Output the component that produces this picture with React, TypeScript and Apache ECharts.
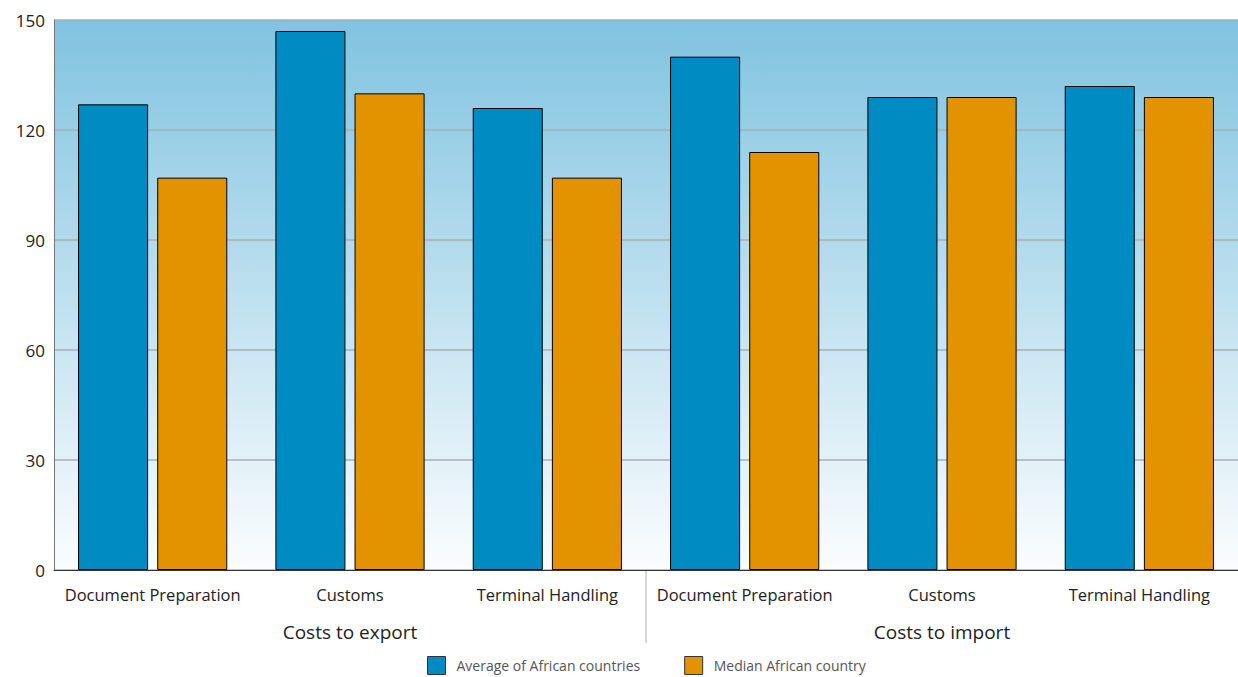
import React, { useEffect, useRef } from "react";
import * as echarts from "echarts";

const categories = [
  "Document Preparation",
  "Customs",
  "Terminal Handling",
  "Document Preparation",
  "Customs",
  "Terminal Handling",
];
const groups = ["Costs to export", "Costs to import"];
const averageValues = [127, 147, 126, 140, 129, 132];
const medianValues = [107, 130, 107, 114, 129, 129];
const seriesNames = ["Average of African countries", "Median African country"];
const yTicks = { min: 0, max: 150, interval: 30 };

const FONT = "'Open Sans', 'Noto Sans', sans-serif";

export default function App() {
  const ref = useRef<HTMLDivElement>(null);
  useEffect(() => {
    if (!ref.current) return;
    const chart = echarts.init(ref.current, null, { renderer: "svg" });
    const option: any = {
      animation: false,
      textStyle: { fontFamily: FONT },
      grid: {
        left: 54,
        right: 0,
        top: 20,
        bottom: 107,
        show: true,
        borderWidth: 0,
        backgroundColor: new echarts.graphic.LinearGradient(0, 0, 0, 1, [
          { offset: 0, color: "#80C3E0" },
          { offset: 1, color: "#FBFDFE" },
        ]),
      },
      legend: {
        bottom: 2,
        padding: 0,
        left: 427,
        itemWidth: 18,
        itemHeight: 18,
        itemGap: 44,
        icon: "rect",
        itemStyle: { borderColor: "#333", borderWidth: 1 },
        textStyle: {
          fontSize: 14,
          color: "#555",
          fontFamily: FONT,
          padding: [0, 0, 0, 6],
        },
        data: seriesNames,
      },
      xAxis: [
        {
          type: "category",
          data: categories,
          axisLine: { lineStyle: { color: "#333", width: 1 } },
          axisTick: { show: false },
          axisLabel: { fontSize: 16.5, color: "#222", margin: 16, interval: 0 },
        },
        {
          type: "category",
          data: groups,
          position: "bottom",
          offset: 36,
          axisLine: { show: false },
          axisTick: { show: false },
          axisLabel: { fontSize: 19, color: "#222", margin: 16 },
        },
      ],
      yAxis: {
        type: "value",
        min: yTicks.min,
        max: yTicks.max,
        interval: yTicks.interval,
        axisLine: { show: true, lineStyle: { color: "#777" } },
        axisTick: { show: false },
        axisLabel: { fontSize: 17, color: "#222", margin: 9 },
        splitLine: { lineStyle: { color: "#a4b0b6", width: 1.5 } },
      },
      series: [
        {
          name: seriesNames[0],
          type: "bar",
          data: averageValues,
          barWidth: "35.5%",
          barGap: "13%",
          itemStyle: { color: "#008BC2", borderColor: "#000", borderWidth: 1 },
        },
        {
          name: seriesNames[1],
          type: "bar",
          data: medianValues,
          barWidth: "35.5%",
          barGap: "13%",
          itemStyle: { color: "#E39300", borderColor: "#000", borderWidth: 1 },
        },
      ],
    };
    chart.setOption(option);
    // divider between the two groups, positioned through the axis scale
    const p0 = chart.convertToPixel({ xAxisIndex: 0 }, 2) as number;
    const p1 = chart.convertToPixel({ xAxisIndex: 0 }, 3) as number;
    const y0 = chart.convertToPixel({ yAxisIndex: 0 }, 0) as number;
    const xd = (p0 + p1) / 2;
    chart.setOption({
      graphic: [
        {
          type: "line",
          shape: { x1: xd, y1: y0, x2: xd, y2: y0 + 73 },
          style: { stroke: "#c8c8c8", lineWidth: 1.5 },
        },
      ],
    });
    return () => chart.dispose();
  }, []);
  return (
    <div
      ref={ref}
      style={{ position: "absolute", left: 0, top: 0, width: 1238, height: 677 }}
    />
  );
}
